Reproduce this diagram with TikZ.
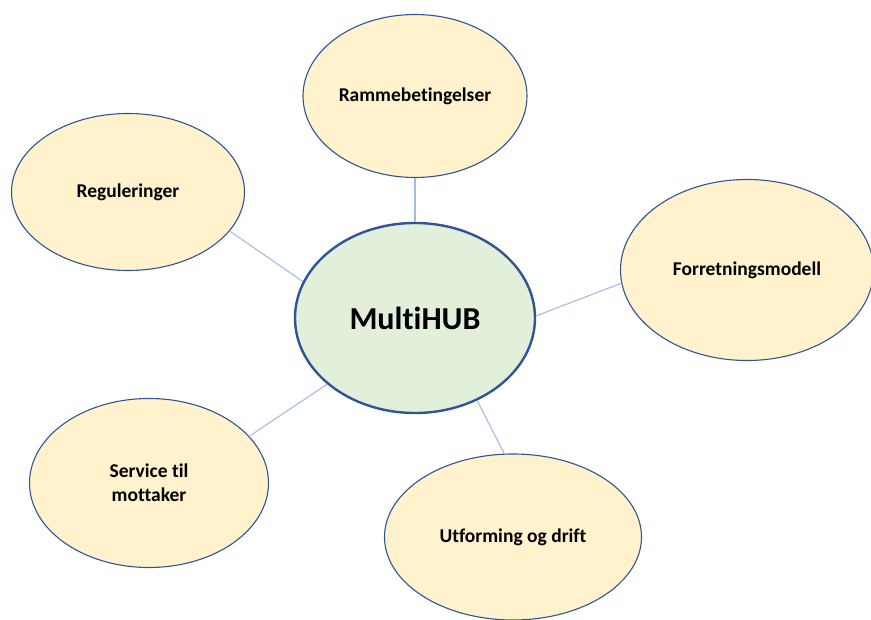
\documentclass[tikz,border=0pt]{standalone}
\usepackage{fontspec}
\setmainfont[Ligatures=NoCommon]{Carlito}
\usetikzlibrary{shapes.geometric}
\definecolor{HubGreen}{RGB}{226,239,218}
\definecolor{TopicYellow}{RGB}{255,242,204}
\definecolor{EdgeBlue}{RGB}{47,85,151}
\definecolor{LinkBlue}{RGB}{164,188,228}

\begin{document}
\begin{tikzpicture}[
    x=1pt, y=-1pt,
    baseell/.style={
      ellipse,
      inner sep=0pt,
      align=center,
      draw=EdgeBlue,
      font=\bfseries\fontsize{19.5}{24}\selectfont
    },
    hub/.style={baseell, fill=HubGreen, line width=2.4pt,
                font=\bfseries\fontsize{32}{36}\selectfont},
    topic/.style={baseell, fill=TopicYellow, line width=1.1pt},
    link/.style={draw=LinkBlue, line width=1.1pt}
  ]
    \useasboundingbox (0,0) rectangle (871,620);

    % Nodes
    \node[hub, minimum width=240pt, minimum height=190pt] (hub) at (415,318) {MultiHUB};
    \node[topic, minimum width=224pt, minimum height=163pt] (ramme) at (415,96) {Rammebetingelser};
    \node[topic, minimum width=233pt, minimum height=157pt] (regul) at (128,192) {Reguleringer};
    \node[topic, minimum width=253pt, minimum height=181pt] (forret) at (747,270) {Forretningsmodell};
    \node[topic, minimum width=239pt, minimum height=169pt] (service) at (149,483) {Service til\\mottaker};
    \node[topic, minimum width=257pt, minimum height=166pt] (utform) at (513,537) {Utforming og drift};

    % Links
    \draw[link] (ramme.south) -- (hub.north);
    \draw[link] (regul.-21) -- (hub.162);
    \draw[link] (forret.-174) -- (hub.1);
    \draw[link] (service.25) -- (hub.-143);
    \draw[link] (utform.96) -- (hub.-53);

  \end{tikzpicture}
\end{document}
